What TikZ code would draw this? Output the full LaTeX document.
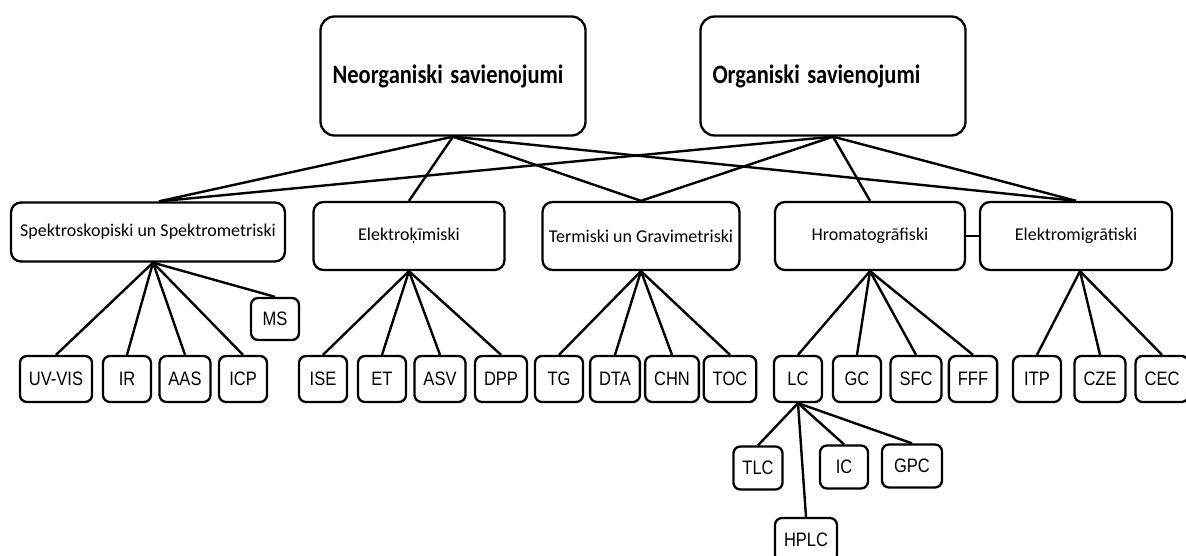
\documentclass[tikz,border=0pt]{standalone}
\usepackage{graphicx}
\usepackage{fontspec}
\setmainfont{Carlito}
\newfontfamily\leaffont{Liberation Sans}
\newcommand\tallText[1]{\scalebox{1}[1.18]{#1}}

\tikzset{
  topbox/.style={draw, line width=2.3pt, rounded corners=14pt, minimum height=119pt,
    text width=241pt, inner xsep=12pt, align=left,
    font=\fontsize{22.5}{26}\selectfont\bfseries},
  midbox/.style={draw, line width=2.3pt, rounded corners=10pt, minimum height=68pt,
    inner xsep=3pt, font=\fontsize{18}{22}\selectfont},
  leaf/.style={draw, line width=2.3pt, rounded corners=7pt, minimum width=48pt,
    minimum height=46pt, inner xsep=9pt, font=\leaffont\fontsize{16.5}{18}\selectfont},
  conn/.style={line width=2.4pt}
}

\begin{document}
\begin{tikzpicture}[x=1pt, y=-1pt]
        \useasboundingbox (0,0) rectangle (1186,556);
        % compound groups
        \node[topbox] (neorg) at (453,76) {\tallText{Neorganiski savienojumi}};
        \node[topbox] (org) at (833,76) {\tallText{Organiski savienojumi}};
        % method groups
        \node[midbox, minimum width=274pt, minimum height=59pt] (spektro) at (148,232) {Spektroskopiski un Spektrometriski};
        \node[midbox, minimum width=191pt] (elektro) at (409,236) {Elektroķīmiski};
        \node[midbox, minimum width=197pt] (termo) at (641,236) {Termiski un Gravimetriski};
        \node[midbox, minimum width=190pt] (hromato) at (870,236) {Hromatogrāfiski};
        \node[midbox, minimum width=192pt] (emigr) at (1076,236) {Elektromigrātiski};
        \draw[conn] (hromato) -- (emigr);
        \draw[conn] (neorg.south) -- ([xshift=11pt]spektro.north);
        \foreach \a in {elektro, termo, emigr}
                \draw[conn] (neorg.south) -- (\a.north);
        \draw[conn] (org.south) -- ([xshift=11pt]spektro.north);
        \foreach \a in {termo, hromato, emigr}
                \draw[conn] (org.south) -- (\a.north);
        % methods
        \foreach \n/\t/\x in {uvvis/UV-VIS/56, ir/IR/127, aas/AAS/185, icp/ICP/243,
                ise/ISE/323, et/ET/382, asv/ASV/440, dpp/DPP/501,
                tg/TG/559, dta/DTA/615, chn/CHN/672, toc/TOC/730,
                lc/LC/798, gc/GC/857, sfc/SFC/916, fff/FFF/973,
                itp/ITP/1037, cze/CZE/1100, cec/CEC/1162}
                \node[leaf] (\n) at (\x,379) {\tallText{\t}};
        \node[leaf, minimum height=42pt] (ms) at (275,319) {\tallText{MS}};
        \foreach \c in {uvvis, ir, aas, icp, ms}
                \draw[conn] ([xshift=5pt]spektro.south) -- (\c.north);
        \foreach \c in {ise, et, asv, dpp}
                \draw[conn] (elektro.south) -- (\c.north);
        \foreach \c in {tg, dta, chn, toc}
                \draw[conn] (termo.south) -- (\c.north);
        \foreach \c in {lc, gc, sfc, fff}
                \draw[conn] (hromato.south) -- (\c.north);
        \foreach \c in {itp, cze, cec}
                \draw[conn] ([xshift=4pt]emigr.south) -- (\c.north);
        % liquid chromatography
        \node[leaf, minimum height=43pt] (tlc) at (758,468) {\tallText{TLC}};
        \node[leaf, minimum height=43pt] (ic) at (844,467) {\tallText{IC}};
        \node[leaf, minimum height=43pt, minimum width=60pt] (gpc) at (912,466) {\tallText{GPC}};
        \node[leaf, minimum height=44pt] (hplc) at (806,540) {\tallText{HPLC}};
        \foreach \c in {tlc, hplc, ic, gpc}
                \draw[conn] (lc.south) -- (\c.north);
\end{tikzpicture}
\end{document}
